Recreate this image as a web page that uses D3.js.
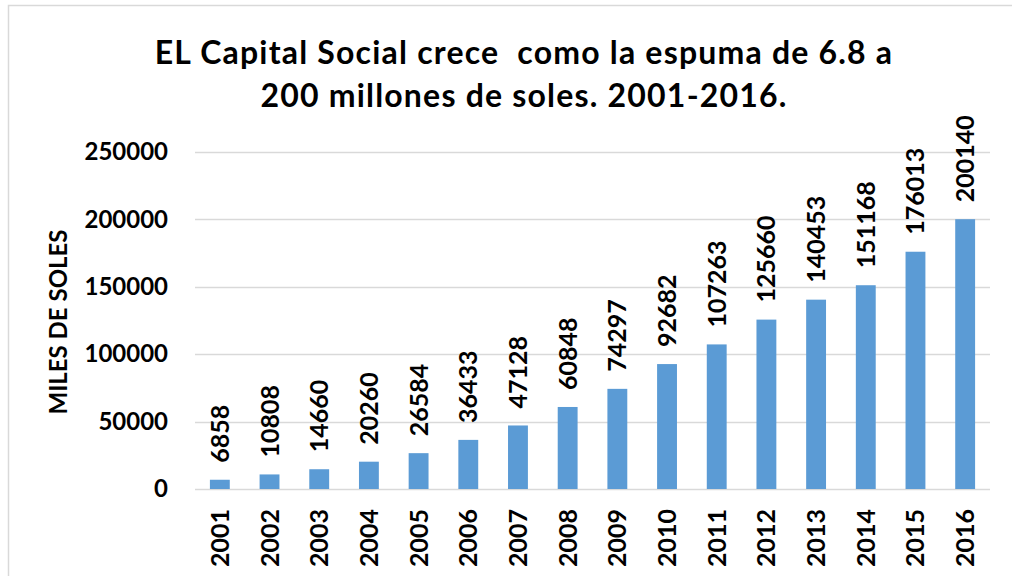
<!DOCTYPE html>
<html>
<head>
<meta charset="utf-8">
<script src="https://cdn.jsdelivr.net/npm/d3@7"></script>
<style>
  body { margin: 0; background: #fff; }
  text { font-family: Lato, "Open Sans", sans-serif; font-weight: bold; fill: #000; }
</style>
</head>
<body>
<div class="container"></div>
<script>
// Capital social por año (miles de soles)
const years = ['2001', '2002', '2003', '2004', '2005', '2006', '2007', '2008',
               '2009', '2010', '2011', '2012', '2013', '2014', '2015', '2016'];
const capital = [6858, 10808, 14660, 20260, 26584, 36433, 47128, 60848,
                 74297, 92682, 107263, 125660, 140453, 151168, 176013, 200140];
const yTicks = [0, 50000, 100000, 150000, 200000, 250000];
const titleLines = ['EL Capital Social crece  como la espuma de 6.8 a',
                    '200 millones de soles. 2001-2016.'];
const yLabel = 'MILES DE SOLES';

const width = 1012;
const height = 576;
const margin = {left: 195, right: 22, top: 152, bottom: 87};

const svg = d3.select('.container')
    .append('svg')
    .attr('width', width)
    .attr('height', height)

// chart frame
svg.append('rect')
    .attr('x', 8.5)
    .attr('y', 5.5)
    .attr('width', 1100)
    .attr('height', 700)
    .attr('fill', 'none')
    .attr('stroke', '#d9d9d9')
    .attr('stroke-width', 1.5)

// title
svg.append('text')
    .attr('text-anchor', 'middle')
    .style('font-size', '32px')
    .style('letter-spacing', '1.2px')
    .style('white-space', 'pre')
    .selectAll('tspan')
    .data(titleLines)
    .enter()
    .append('tspan')
    .attr('x', 524)
    .attr('y', (d, i) => 64 + i * 43)
    .text(d => d)

const xScale = d3.scaleBand()
    .domain(years)
    .range([margin.left, width - margin.right])
    .paddingInner(0.6)
    .paddingOuter(0.3);

const yScale = d3.scaleLinear()
    .domain([0, 250000])
    .range([height - margin.bottom, margin.top]);

// gridlines
svg.append('g')
    .selectAll('line')
    .data(yTicks)
    .enter()
    .append('line')
    .attr('x1', margin.left)
    .attr('x2', width - margin.right)
    .attr('y1', d => Math.round(yScale(d)) + 0.5)
    .attr('y2', d => Math.round(yScale(d)) + 0.5)
    .attr('stroke', '#d9d9d9')
    .attr('stroke-width', 1.5)

// y axis labels
const yAxis = d3.axisLeft(yScale).tickValues(yTicks).tickSize(0).tickPadding(0).tickFormat(d3.format('d'));
const gy = svg.append('g')
    .attr('transform', `translate(168, 0)`)
    .call(yAxis)
gy.select('.domain').remove();
gy.selectAll('text')
    .attr('font-family', null)
    .attr('fill', null)
    .style('font-size', '24px')

svg.append('text')
    .attr('transform', `translate(67, 322) rotate(-90)`)
    .attr('text-anchor', 'middle')
    .style('font-size', '24px')
    .text(yLabel)

// bars
svg.selectAll('rect.bar')
    .data(capital)
    .enter()
    .append('rect')
    .attr('class', 'bar')
    .attr('x', (d, i) => xScale(years[i]))
    .attr('width', xScale.bandwidth())
    .attr('y', d => yScale(d))
    .attr('height', d => yScale(0) - yScale(d))
    .attr('fill', '#5b9bd5')

// value labels
svg.selectAll('text.val')
    .data(capital)
    .enter()
    .append('text')
    .attr('class', 'val')
    .attr('transform', (d, i) => `translate(${xScale(years[i]) + xScale.bandwidth() / 2 + 9}, ${yScale(d) - 17}) rotate(-90)`)
    .style('font-size', '25px')
    .text(d => d)

// x labels
svg.selectAll('text.year')
    .data(years)
    .enter()
    .append('text')
    .attr('class', 'year')
    .attr('transform', d => `translate(${xScale(d) + xScale.bandwidth() / 2 + 9}, 509) rotate(-90)`)
    .attr('text-anchor', 'end')
    .style('font-size', '25px')
    .text(d => d)
</script>
</body>
</html>
